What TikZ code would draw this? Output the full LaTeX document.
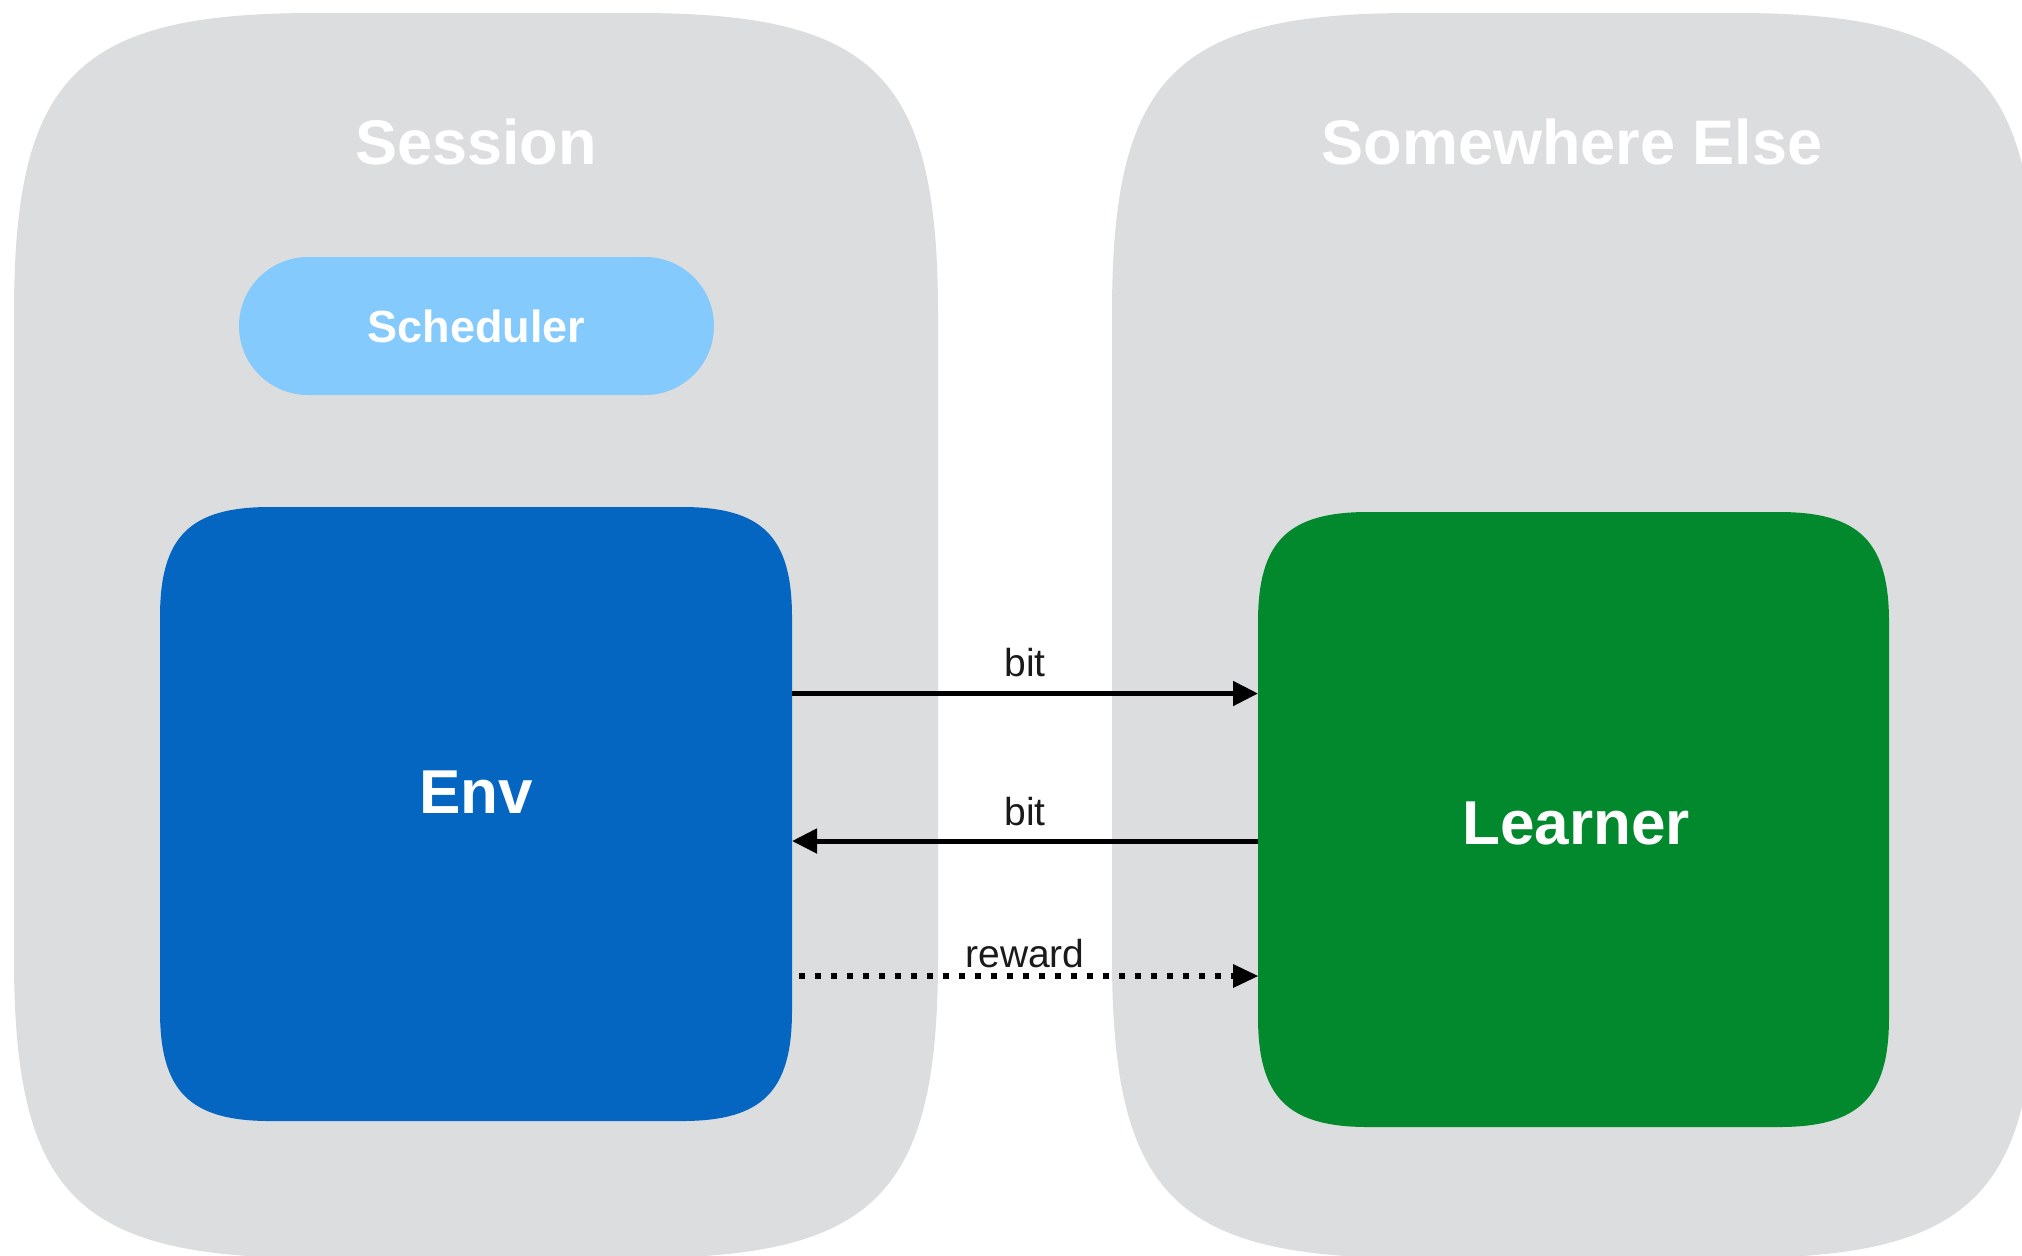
\documentclass[tikz,border=0pt]{standalone}
\usepackage{fontspec}
\setmainfont{Liberation Sans}
\usetikzlibrary{arrows.meta,calc}

\definecolor{panelgray}{RGB}{220,221,223}
\definecolor{envblue}{RGB}{4,102,192}
\definecolor{learngreen}{RGB}{3,137,45}
\definecolor{schedblue}{RGB}{132,202,253}
\definecolor{inkblack}{RGB}{26,26,26}

% Fill a node's rectangle with smooth (continuous-curvature) corners.
% #1 node name, #2 fill colour, #3 corner reach, #4 control-point factor
\newcommand\softfill[4]{%
  \pgfmathsetmacro\softr{#3}%
  \pgfmathsetmacro\softc{#3*#4}%
  \fill[#2]
    ($(#1.north west)+(\softr,0)$) -- ($(#1.north east)+(-\softr,0)$)
    .. controls ($(#1.north east)+(-\softc,0)$) and ($(#1.north east)+(0,\softc)$) .. ($(#1.north east)+(0,\softr)$)
    -- ($(#1.south east)+(0,-\softr)$)
    .. controls ($(#1.south east)+(0,-\softc)$) and ($(#1.south east)+(-\softc,0)$) .. ($(#1.south east)+(-\softr,0)$)
    -- ($(#1.south west)+(\softr,0)$)
    .. controls ($(#1.south west)+(\softc,0)$) and ($(#1.south west)+(0,-\softc)$) .. ($(#1.south west)+(0,-\softr)$)
    -- ($(#1.north west)+(0,\softr)$)
    .. controls ($(#1.north west)+(0,\softc)$) and ($(#1.north west)+(\softc,0)$) .. ($(#1.north west)+(\softr,0)$)
    -- cycle;}

\begin{document}
\begin{tikzpicture}[x=0.5pt,y=-0.5pt,
  frame/.style={rectangle, inner sep=0pt, outer sep=0pt},
  title/.style={text=white, font=\bfseries\fontsize{31.5}{36}\selectfont, anchor=base, inner sep=0pt},
  boxlabel/.style={text=white, font=\bfseries\fontsize{31}{36}\selectfont, anchor=base, inner sep=0pt},
  pill/.style={rectangle, rounded corners=34.5pt, fill=schedblue, text=white,
    font=\bfseries\fontsize{22.5}{26}\selectfont, inner sep=0pt,
    minimum width=237.5pt, minimum height=69pt},
  flow/.style={line width=2.5pt, draw=black, -{Triangle[length=12.5pt,width=12pt]}},
  dotflow/.style={flow, line width=2.75pt, dash pattern=on 2.75pt off 5.25pt, dash phase=4.35pt,
    -{Triangle[length=12.5pt,width=12pt,line width=0pt]}},
  flowlabel/.style={font=\fontsize{19.5}{22}\selectfont, text=inkblack, anchor=base, inner sep=0pt}]

\useasboundingbox (0,0) rectangle (2022,1255);
\clip (0,0) rectangle (2022,1255);

% containers
\node[frame, minimum width=462pt, minimum height=622.5pt] (session) at (476,635.5) {};
\node[frame, minimum width=462pt, minimum height=622.5pt] (elsewhere) at (1574,635.5) {};
\softfill{session}{panelgray}{300}{0.21}
\softfill{elsewhere}{panelgray}{300}{0.21}

\node[title] (sessiontitle) at (476,164) {Session};
\node[title] (elsewheretitle) at (1572,164) {Somewhere Else};

% scheduler
\node[pill] (scheduler) at (476.5,326) {Scheduler};

% main blocks
\node[frame, minimum width=316pt, minimum height=307pt] (env) at (476,814) {};
\node[frame, minimum width=315.5pt, minimum height=307.5pt] (learner) at (1573.5,819.5) {};
\softfill{env}{envblue}{110}{0.27}
\softfill{learner}{learngreen}{110}{0.27}

\node[boxlabel] (envlabel) at (476,813) {Env};
\node[boxlabel] (learnerlabel) at (1576,844) {Learner};

% message rows
\coordinate (rowbitout) at (1025,693.5);
\coordinate (rowbitback) at (1025,841);
\coordinate (rowreward) at (1025,976);

\draw[flow] (env.east |- rowbitout) -- node[flowlabel, pos=0.5, yshift=8.5pt] (bitout) {bit} (learner.west |- rowbitout);
\draw[flow] (learner.west |- rowbitback) -- node[flowlabel, pos=0.5, yshift=8pt] (bitback) {bit} (env.east |- rowbitback);
\draw[dotflow] (env.east |- rowreward) -- node[flowlabel, pos=0.5, yshift=4.5pt] (reward) {reward} (learner.west |- rowreward);

\end{tikzpicture}
\end{document}
